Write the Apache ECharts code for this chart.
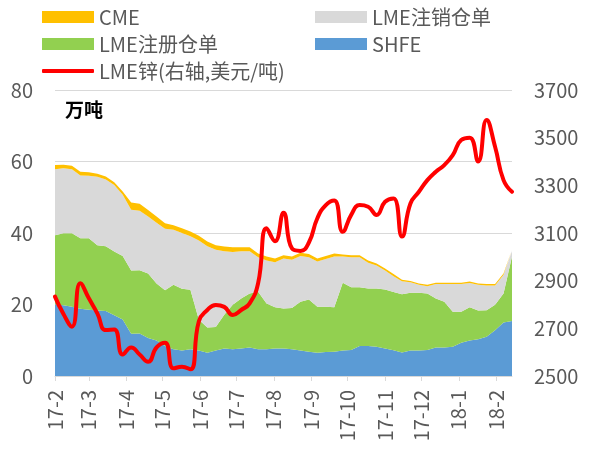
<!DOCTYPE html>
<html>
<head>
<meta charset="utf-8">
<script src="https://cdn.jsdelivr.net/npm/echarts@6/dist/echarts.min.js"></script>
<style>
  html, body { margin: 0; padding: 0; background: #fff; }
  #main { width: 591px; height: 454px; }
</style>
</head>
<body>
<div id="main"></div>
<script>
// 每周数据 (周三)
var dates = [
  '2017-02-01','2017-02-08','2017-02-15','2017-02-22','2017-03-01','2017-03-08','2017-03-15','2017-03-22','2017-03-29',
  '2017-04-05','2017-04-12','2017-04-19','2017-04-26','2017-05-03','2017-05-10','2017-05-17','2017-05-24','2017-05-31',
  '2017-06-07','2017-06-14','2017-06-21','2017-06-28','2017-07-05','2017-07-12','2017-07-19','2017-07-26',
  '2017-08-02','2017-08-09','2017-08-16','2017-08-23','2017-08-30','2017-09-06','2017-09-13','2017-09-20','2017-09-27',
  '2017-10-04','2017-10-11','2017-10-18','2017-10-25','2017-11-01','2017-11-08','2017-11-15','2017-11-22','2017-11-29',
  '2017-12-06','2017-12-13','2017-12-20','2017-12-27','2018-01-03','2018-01-10','2018-01-17','2018-01-24','2018-01-31',
  '2018-02-07','2018-02-14'
];
var shfe = [20.1,19.8,19.4,18.8,18.5,18.3,18.2,17.0,15.8,11.8,11.9,10.6,9.9,8.4,
  7.5,7.1,7.5,7.1,6.5,7.1,7.7,7.5,7.7,8.0,7.5,7.5,7.7,
  7.7,7.5,7.1,6.8,6.5,6.7,6.8,7.1,7.3,8.4,8.4,8.2,7.7,7.2,
  6.6,7.1,7.1,7.3,8.0,8.0,8.2,9.3,9.9,10.3,11.0,12.8,15.0,15.4];
var lmeOn = [19.3,20.1,20.5,19.7,20.0,18.3,18.1,17.8,17.8,17.7,17.7,18.1,16.0,15.6,
  18.0,17.3,16.6,8.6,7.1,6.6,9.4,12.4,14.0,15.1,16.1,12.8,11.5,
  11.2,11.5,13.7,14.6,12.9,12.7,12.4,19.0,17.5,16.4,16.1,16.3,16.5,16.3,
  16.3,16.2,16.2,15.8,13.7,12.8,9.8,8.7,9.3,8.0,7.4,7.1,8.1,18.0];
var lmeOff = [18.4,18.2,17.9,17.6,17.5,19.1,18.7,18.6,17.1,17.0,16.6,15.9,17.0,17.2,
  15.4,15.6,15.0,22.2,22.7,21.6,17.8,14.8,13.2,11.8,9.6,12.0,12.6,
  14.0,13.5,12.8,11.8,12.6,13.3,14.2,7.3,8.4,8.4,7.2,6.4,5.3,4.4,
  3.6,2.9,2.2,2.0,4.0,4.9,7.7,7.7,6.8,7.2,6.9,5.4,5.2,1.6];
var cme = [1.2,1.0,1.0,1.0,1.0,0.9,0.8,0.8,0.9,2.0,2.0,1.8,1.7,1.5,
  1.3,1.3,1.3,1.3,1.3,1.3,1.3,1.3,1.1,1.1,1.1,1.1,1.1,
  0.9,0.9,0.9,0.9,0.9,0.9,0.9,0.6,0.6,0.6,0.6,0.6,0.6,0.6,
  0.4,0.4,0.4,0.4,0.4,0.4,0.4,0.4,0.4,0.4,0.4,0.4,0.4,0.4];
var zinc = [2833,2760,2707,2889,2826,2763,2693,2695,2590,2620,2590,2560,2620,2640,
  2532,2539,2528,2730,2777,2798,2790,2756,2777,2805,2889,3120,3065,
  3185,3035,3025,3060,3162,3217,3236,3105,3176,3217,3210,3176,3231,3245,
  3085,3224,3273,3322,3357,3385,3427,3490,3500,3400,3574,3462,3322,3273];
var leftTicks = [0, 80, 20];
var rightTicks = [2500, 3700, 200];

var FONT = 'Noto Sans CJK SC';
var GREY = '#595959';

function pairs(arr) {
  var out = [];
  for (var i = 0; i < arr.length; i++) out.push([dates[i], arr[i]]);
  return out;
}
function areaSeries(name, arr, color) {
  return {
    name: name, type: 'line', stack: 'kc', data: pairs(arr),
    symbol: 'none', lineStyle: { width: 0 }, itemStyle: { color: color },
    areaStyle: { color: color, opacity: 1 }
  };
}
function legendBox(left, top, h, names) {
  return {
    orient: 'vertical', left: left, top: top, padding: 0, itemGap: 7,
    itemWidth: 52, itemHeight: h,
    textStyle: { fontSize: 20, color: GREY, lineHeight: 20, fontFamily: FONT },
    data: names
  };
}

var myChart = echarts.init(document.getElementById('main'));
var option = {
  backgroundColor: '#fff',
  animation: false,
  textStyle: { fontFamily: FONT },
  title: {
    text: '万吨', left: 60, top: 95,
    textStyle: { fontFamily: FONT, fontSize: 19, fontWeight: 'bold', color: '#000' }
  },
  legend: [
    legendBox(42, 7, 12, [{ name: 'CME', icon: 'rect' }, { name: 'LME注册仓单', icon: 'rect' }]),
    legendBox(42, 61, 4, [{ name: 'LME锌(右轴,美元/吨)', icon: 'roundRect' }]),
    legendBox(315, 7, 12, [{ name: 'LME注销仓单', icon: 'rect' }, { name: 'SHFE', icon: 'rect' }])
  ],
  grid: { left: 55, right: 79, top: 90, bottom: 78 },
  xAxis: {
    type: 'time',
    min: dates[0], max: dates[dates.length - 1],
    splitNumber: 12,
    minInterval: 28 * 864e5, maxInterval: 31 * 864e5,
    axisLine: { lineStyle: { color: '#d9d9d9', width: 1 } },
    axisTick: { show: true, length: 5, lineStyle: { color: '#d9d9d9' } },
    splitLine: { show: false },
    axisLabel: {
      rotate: 90, margin: 14, fontSize: 20, color: GREY, fontFamily: FONT,
      formatter: function (v) {
        var d = new Date(v);
        return String(d.getFullYear()).slice(2) + '-' + (d.getMonth() + 1);
      }
    }
  },
  yAxis: [{
    type: 'value', min: leftTicks[0], max: leftTicks[1], interval: leftTicks[2],
    axisLine: { show: false }, axisTick: { show: false },
    splitLine: { lineStyle: { color: '#d9d9d9', width: 1 } },
    axisLabel: { fontSize: 20, color: GREY, margin: 22, fontFamily: FONT }
  }, {
    type: 'value', min: rightTicks[0], max: rightTicks[1], interval: rightTicks[2],
    axisLine: { show: false }, axisTick: { show: false },
    splitLine: { show: false },
    axisLabel: {
      fontSize: 20, color: GREY, margin: 22, fontFamily: FONT,
      formatter: function (v) { return String(v); }
    }
  }],
  series: [
    areaSeries('SHFE', shfe, '#5B9BD5'),
    areaSeries('LME注册仓单', lmeOn, '#92D050'),
    areaSeries('LME注销仓单', lmeOff, '#D9D9D9'),
    areaSeries('CME', cme, '#FFC000'),
    {
      name: 'LME锌(右轴,美元/吨)', type: 'line', yAxisIndex: 1,
      data: pairs(zinc), smooth: true, symbol: 'none',
      itemStyle: { color: '#FF0000' },
      lineStyle: { color: '#FF0000', width: 4, cap: 'round', join: 'round' },
      z: 5
    }
  ]
};
myChart.setOption(option);
</script>
</body>
</html>
